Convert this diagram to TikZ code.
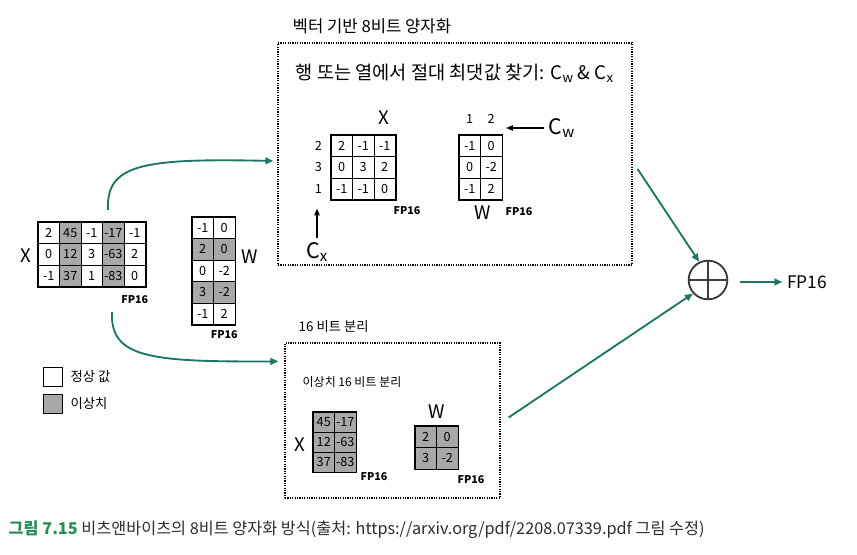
\documentclass[tikz,border=0pt]{standalone}
\usepackage{fontspec}
\setmainfont{Noto Sans CJK KR}
\usetikzlibrary{arrows.meta,positioning,calc}
\definecolor{arrteal}{RGB}{30,118,102}
\definecolor{outl}{RGB}{168,168,168}
\definecolor{plusgray}{RGB}{60,60,60}
\definecolor{capgreen}{RGB}{40,140,92}
\definecolor{captext}{RGB}{45,45,45}
\tikzset{
  cell/.style={draw, line width=0.6pt, minimum width=16.1pt, minimum height=16.1pt, inner sep=0pt, font=\fontsize{9.5}{9.5}\selectfont},
  frame/.style={line width=1.1pt},
  dotbox/.style={draw, line width=0.9pt, dash pattern=on 0.9pt off 0.9pt, inner sep=0pt},
  lbl/.style={font=\fontsize{14}{14}\selectfont},
  fplbl/.style={font=\fontsize{8}{8}\selectfont\bfseries},
  idx/.style={font=\fontsize{9.5}{9.5}\selectfont},
  flow/.style={arrteal, line width=1.4pt, -{Triangle[length=6pt,width=5pt]}},
  ptr/.style={black, line width=0.8pt, -{Triangle[length=5pt,width=4pt]}},
}

\begin{document}
\begin{tikzpicture}[x=0.75pt,y=0.75pt,yscale=-1,xscale=1]
\useasboundingbox (0,0) rectangle (857,555);

%Boxes
\node[dotbox, minimum width=265.5pt, minimum height=166.5pt] (topbox) at (455,154) {};
\node[dotbox, minimum width=161.25pt, minimum height=116.25pt] (botbox) at (392.5,420.5) {};

% Text Node
\node[anchor=west, font=\fontsize{12.5}{12.5}\selectfont] (toptitle) at (288,26) {벡터 기반 8비트 양자화};
% Text Node
\node[anchor=west, font=\fontsize{10}{10}\selectfont] (bottitle) at (294,327) {16 비트 분리};
% Text Node
\node[anchor=west, font=\fontsize{14}{14}\selectfont] (findmax) at (291,73) {행 또는 열에서 절대 최댓값 찾기: C\textsubscript{w} \& C\textsubscript{x}};
% Text Node
\node[font=\fontsize{9}{9}\selectfont] (splittitle) at (352,382) {이상치 16 비트 분리};

%Matrix: X (input)
\foreach \row [count=\r] in {{2,45,-1,-17,-1},{0,12,3,-63,2},{-1,37,1,-83,0}}{
  \foreach \v [count=\c] in \row{
    \ifodd\c\relax \def\cf{white}\else \def\cf{outl}\fi
    \node[cell, fill=\cf] (lx-\r-\c) at (38+21.5*\c-10.75, 222+21.5*\r-10.75) {\v};
  }
}
\draw[frame] (lx-1-1.north west) rectangle (lx-3-5.south east);
\node[lbl] (lxname) at (26,256) {X};
\node[fplbl, below=3pt of lx-3-5] (lxfp) {FP16};

%Matrix: W (input)
\foreach \row [count=\r] in {{-1,0},{2,0},{0,-2},{3,-2},{-1,2}}{
  \foreach \v [count=\c] in \row{
    \ifodd\r\relax \def\cf{white}\else \def\cf{outl}\fi
    \node[cell, fill=\cf] (lw-\r-\c) at (192+21.5*\c-10.75, 217+21.5*\r-10.75) {\v};
  }
}
\draw[frame] (lw-1-1.north west) rectangle (lw-5-2.south east);
\node[lbl] (lwname) at (250,257) {W};
\node[fplbl, below=1pt of lw-5-2] (lwfp) {FP16};

%Matrix: X (8 bit)
\foreach \row [count=\r] in {{2,-1,-1},{0,3,2},{-1,-1,0}}{
  \foreach \v [count=\c] in \row{
    \node[cell, fill=white] (tx-\r-\c) at (331+21.5*\c-10.75, 135+21.5*\r-10.75) {\v};
  }
}
\draw[frame] (tx-1-1.north west) rectangle (tx-3-3.south east);
\node[lbl] (txname) at (384,118) {X};
\node[fplbl] (txfp) at (407,211) {FP16};
\node[idx, left=3pt of tx-1-1] (txr-1) {2};
\node[idx, left=3pt of tx-2-1] (txr-2) {3};
\node[idx, left=3pt of tx-3-1] (txr-3) {1};
\node[font=\fontsize{16}{16}\selectfont] (cx) at (317,252) {C\textsubscript{x}};
\draw[ptr, shorten >=8pt] (cx.north) -- (cx.north |- txr-3.south);

%Matrix: W (8 bit)
\foreach \row [count=\r] in {{-1,0},{0,-2},{-1,2}}{
  \foreach \v [count=\c] in \row{
    \node[cell, fill=white] (tw-\r-\c) at (459+21.5*\c-10.75, 135+21.5*\r-10.75) {\v};
  }
}
\draw[frame] (tw-1-1.north west) rectangle (tw-3-2.south east);
\node[idx, above=5pt of tw-1-1] (twc-1) {1};
\node[idx, above=5pt of tw-1-2] (twc-2) {2};
\node[lbl] (twname) at (483,213) {W};
\node[fplbl] (twfp) at (519,212) {FP16};
\node[font=\fontsize{16}{16}\selectfont] (cw) at (562,128) {C\textsubscript{w}};
\draw[ptr, shorten >=5pt] (cw.west) -- (cw.west -| twc-2.east);

%Matrix: X (16 bit)
\foreach \row [count=\r] in {{45,-17},{12,-63},{37,-83}}{
  \foreach \v [count=\c] in \row{
    \node[cell, fill=outl, minimum height=15pt] (bx-\r-\c) at (313+21.5*\c-10.75, 412+20*\r-10) {\v};
  }
}
\draw[frame] (bx-1-1.north west) rectangle (bx-3-2.south east);
\node[lbl] (bxname) at (300,445) {X};
\node[fplbl] (bxfp) at (374,477) {FP16};

%Matrix: W (16 bit)
\foreach \row [count=\r] in {{2,0},{3,-2}}{
  \foreach \v [count=\c] in \row{
    \node[cell, fill=outl] (bw-\r-\c) at (415+21.5*\c-10.75, 426+21.5*\r-10.75) {\v};
  }
}
\draw[frame] (bw-1-1.north west) rectangle (bw-2-2.south east);
\node[lbl] (bwname) at (437,412) {W};
\node[fplbl] (bwfp) at (471,480) {FP16};

%Legend
\node[draw, line width=1pt, fill=white, minimum size=14.5pt, inner sep=0pt] (leg-n) at (53,377) {};
\node[draw, line width=1pt, fill=outl, minimum size=14.5pt, inner sep=0pt] (leg-o) at (53,404) {};
\node[right=2pt of leg-n, font=\fontsize{10}{10}\selectfont] (leg-n-txt) {정상 값};
\node[right=2pt of leg-o, font=\fontsize{10}{10}\selectfont] (leg-o-txt) {이상치};

%Sum
\node[circle, draw=plusgray, line width=1.4pt, minimum size=29pt, inner sep=0pt,
  path picture={\draw[plusgray, line width=1.8pt] (path picture bounding box.north) -- (path picture bounding box.south)
    (path picture bounding box.west) -- (path picture bounding box.east);}] (plus) at (708,280) {};
\node[font=\fontsize{13}{13}\selectfont] (out) at (807,282) {FP16};

%Connectors
\coordinate (up0) at (108,210);
\coordinate (dn0) at (112,312);
\draw[flow] (up0) .. controls (106,165) and (140,158) .. ($(topbox.west)+(-4,7)$);
\draw[flow] (dn0) .. controls (110,358) and (150,362) .. ($(botbox.north west)+(-6,19)$);
\draw[flow] ($(topbox.east)+(5,15)$) -- (plus.116);
\draw[flow] ($(botbox.east)+(8,-3)$) -- (plus.222);
\draw[flow] ($(plus.east)+(12,2)$) -- (out.west);

% Text Node
\node[anchor=west, font=\fontsize{12.2}{12.2}\selectfont, text=captext] (cap) at (4,530) {{\color{capgreen}\bfseries 그림 7.15} 비츠앤바이츠의 8비트 양자화 방식(출처: https://arxiv.org/pdf/2208.07339.pdf 그림 수정)};

\end{tikzpicture}
\end{document}
